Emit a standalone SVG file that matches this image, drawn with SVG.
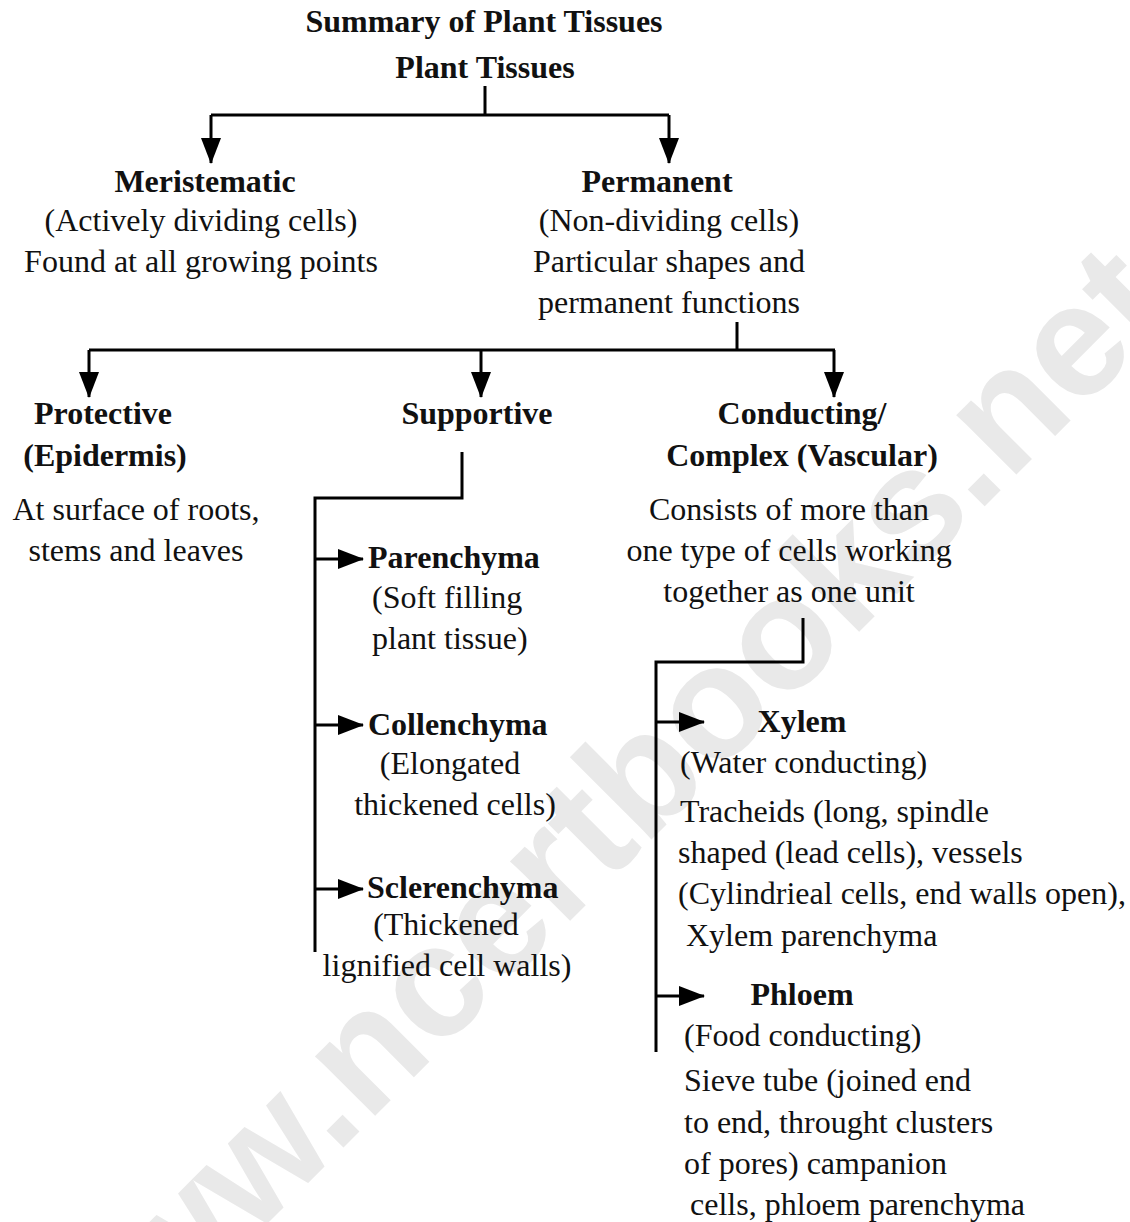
<svg xmlns="http://www.w3.org/2000/svg" width="1130" height="1222" viewBox="0 0 1130 1222">
<style>
text{font-family:"Liberation Serif","Times New Roman",serif;font-size:32px;fill:#111}
.b{font-weight:bold}
.m{text-anchor:middle}
.wm{font-family:"Liberation Sans",Arial,sans-serif;font-weight:bold;font-size:160px;fill:#e9e9e9}
.ln{fill:none;stroke:#000;stroke-width:3}
.ar{fill:none;stroke:#000;stroke-width:3;marker-end:url(#ah)}
</style>
<defs>
<marker id="ah" markerUnits="userSpaceOnUse" markerWidth="26" markerHeight="20" refX="25" refY="10" orient="auto">
<path d="M0,0 L26,10 L0,20 z" fill="#000"/>
</marker>
</defs>
<rect width="1130" height="1222" fill="#fff"/>
<text class="wm" x="76" y="1415" transform="rotate(-45 76 1415)">www.ncertbooks.net</text>

<g id="connectors">
<path class="ln" d="M485,86 V115 M211,115 H669"/>
<path class="ar" d="M211,115 V163"/>
<path class="ar" d="M669,115 V163"/>
<path class="ln" d="M737,322 V350 M89,350 H835"/>
<path class="ar" d="M89,350 V397"/>
<path class="ar" d="M481,350 V397"/>
<path class="ar" d="M834,350 V397"/>
<path class="ln" d="M462,452 V498 H315 V952"/>
<path class="ar" d="M315,559 H363"/>
<path class="ar" d="M315,725 H363"/>
<path class="ar" d="M315,889 H363"/>
<path class="ln" d="M803,618 V662 H656 V1052"/>
<path class="ar" d="M656,722 H704"/>
<path class="ar" d="M656,996 H704"/>
</g>

<g id="title"><text class="b m" x="484" y="32">Summary of Plant Tissues</text></g>
<g id="plant-tissues"><text class="b m" x="485" y="78">Plant Tissues</text></g>

<g id="meristematic">
<text class="b m" x="205" y="192">Meristematic</text>
<text class="m" x="201" y="231">(Actively dividing cells)</text>
<text class="m" x="201" y="272">Found at all growing points</text>
</g>

<g id="permanent">
<text class="b m" x="657" y="192">Permanent</text>
<text class="m" x="669" y="231">(Non-dividing cells)</text>
<text class="m" x="669" y="272">Particular shapes and</text>
<text class="m" x="669" y="313">permanent functions</text>
</g>

<g id="protective">
<text class="b m" x="103" y="424">Protective</text>
<text class="b m" x="105" y="466">(Epidermis)</text>
<text class="m" x="136" y="520">At surface of roots,</text>
<text class="m" x="136" y="561">stems and leaves</text>
</g>

<g id="supportive">
<text class="b m" x="477" y="424">Supportive</text>
</g>

<g id="conducting">
<text class="b m" x="802" y="424">Conducting/</text>
<text class="b m" x="802" y="466">Complex (Vascular)</text>
<text class="m" x="789" y="520">Consists of more than</text>
<text class="m" x="789" y="561">one type of cells working</text>
<text class="m" x="789" y="602">together as one unit</text>
</g>

<g id="parenchyma">
<text class="b" x="368" y="568">Parenchyma</text>
<text x="372" y="608">(Soft filling</text>
<text x="372" y="649">plant tissue)</text>
</g>

<g id="collenchyma">
<text class="b" x="368" y="735">Collenchyma</text>
<text class="m" x="450" y="774">(Elongated</text>
<text class="m" x="455" y="815">thickened cells)</text>
</g>

<g id="sclerenchyma">
<text class="b" x="367" y="898">Sclerenchyma</text>
<text class="m" x="446" y="935">(Thickened</text>
<text class="m" x="447" y="976">lignified cell walls)</text>
</g>

<g id="xylem">
<text class="b m" x="802" y="732">Xylem</text>
<text x="680" y="773">(Water conducting)</text>
<text x="680" y="822">Tracheids (long, spindle</text>
<text x="678" y="863">shaped (lead cells), vessels</text>
<text x="678" y="904">(Cylindrieal cells, end walls open),</text>
<text x="686" y="946">Xylem parenchyma</text>
</g>

<g id="phloem">
<text class="b m" x="802" y="1005">Phloem</text>
<text x="684" y="1046">(Food conducting)</text>
<text x="684" y="1091">Sieve tube (joined end</text>
<text x="684" y="1133">to end, throught clusters</text>
<text x="684" y="1174">of pores) campanion</text>
<text x="690" y="1215">cells, phloem parenchyma</text>
</g>
</svg>
